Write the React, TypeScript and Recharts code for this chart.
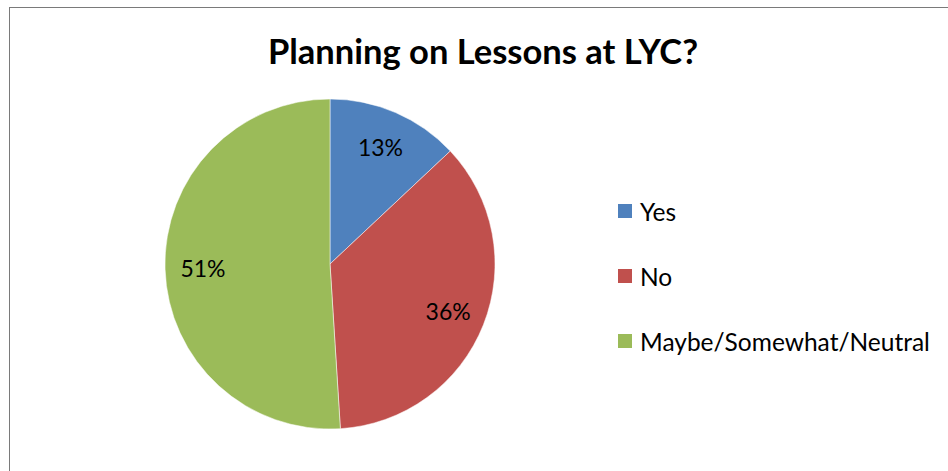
import React from 'react';
import { PieChart, Pie, Cell, Legend } from 'recharts';

// Planning on Lessons at LYC? survey pie

const categories = ['Yes', 'No', 'Maybe/Somewhat/Neutral'];
const shares = [13, 36, 51];
const colors = ['#4F81BD', '#C0504D', '#9BBB59'];

const data = categories.map((name, i) => ({ name, value: shares[i] }));

const FONT = 'Lato, "Open Sans", sans-serif';
const RADIAN = Math.PI / 180;

const renderLabel = (props: any) => {
  const { cx, cy, midAngle, outerRadius, percent } = props;
  const r = outerRadius * 0.77;
  const x = cx + r * Math.cos(-midAngle * RADIAN);
  const y = cy + r * Math.sin(-midAngle * RADIAN);
  return (
    <text
      x={x}
      y={y}
      fill="#000"
      textAnchor="middle"
      dominantBaseline="central"
      fontFamily={FONT}
      fontSize={23}
    >
      {`${Math.round(percent * 100)}%`}
    </text>
  );
};

const renderLegend = () => (
  <div style={{ fontFamily: FONT, fontSize: 24.5, color: '#000' }}>
    {data.map((d, i) => (
      <div
        key={d.name}
        style={{ display: 'flex', alignItems: 'center', height: 30, marginBottom: i < data.length - 1 ? 35 : 0 }}
      >
        <span
          style={{ display: 'inline-block', width: 14, height: 14, background: colors[i], marginRight: 8 }}
        />
        <span>{d.name}</span>
      </div>
    ))}
  </div>
);

export default function App() {
  return (
    <div
      style={{
        position: 'absolute',
        left: 0,
        top: 0,
        width: 948,
        height: 471,
        overflow: 'hidden',
        background: '#fff',
      }}
    >
      <div
        style={{
          position: 'absolute',
          left: 9,
          top: 7,
          width: 960,
          height: 480,
          border: '1.5px solid #7a7a7a',
        }}
      />
      <div
        style={{
          position: 'absolute',
          left: 10,
          width: 946,
          top: 29,
          textAlign: 'center',
          fontFamily: FONT,
          fontWeight: 700,
          fontSize: 34.5,
          lineHeight: '44px',
          color: '#000',
        }}
      >
        Planning on Lessons at LYC?
      </div>
      <div style={{ position: 'absolute', left: 0, top: 0 }}>
        <PieChart width={948} height={471} margin={{ top: 0, right: 0, bottom: 0, left: 0 }}>
          <Pie
            data={data}
            dataKey="value"
            nameKey="name"
            cx={330}
            cy={264}
            outerRadius={165}
            startAngle={90}
            endAngle={-270}
            stroke="#ffffff"
            strokeWidth={0.5}
            label={renderLabel}
            labelLine={false}
            isAnimationActive={false}
          >
            {data.map((d, i) => (
              <Cell key={d.name} fill={colors[i]} />
            ))}
          </Pie>
          <Legend
            content={renderLegend}
            wrapperStyle={{ position: 'absolute', left: 618, top: 196, width: 320 }}
          />
        </PieChart>
      </div>
    </div>
  );
}
